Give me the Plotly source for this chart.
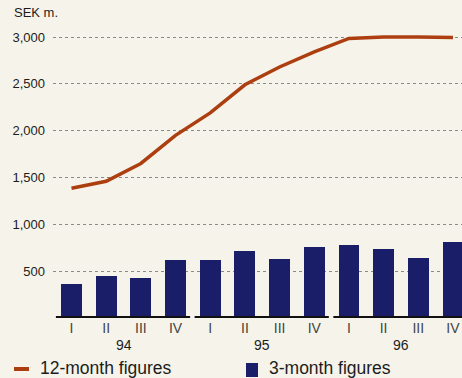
import plotly.graph_objects as go

quarters = ["I", "II", "III", "IV"] * 3
years = ["94", "95", "96"]
three_month = [360, 450, 430, 615, 620, 720, 630, 755, 775, 740, 645, 815]
twelve_month = [1385, 1460, 1650, 1950, 2190, 2490, 2680, 2840, 2985, 3000, 3000, 2995]
y_ticks = [500, 1000, 1500, 2000, 2500, 3000]
y_labels = ["500", "1,000", "1,500", "2,000", "2,500", "3,000"]

BG = "#f6f4ea"
NAVY = "#1a1d68"
RUST = "#ad3e10"
TXT = "#1c1c1c"
FONT = "Liberation Sans, Arial, sans-serif"

W, H = 462, 378
L, R, T, B = 53, 0, 20, 60
pw, ph = W - L - R, H - T - B


def px_x(p):
    return (p - L) / pw


def px_y(p):
    return 1 - (p - T) / ph


x = list(range(len(quarters)))

fig = go.Figure()
fig.add_trace(go.Bar(x=x, y=three_month, width=0.6, marker=dict(color=NAVY, line=dict(width=0)),
                     name="3-month figures", showlegend=False))
fig.add_trace(go.Scatter(x=x, y=twelve_month, mode="lines", line=dict(color=RUST, width=3.5),
                         name="12-month figures", showlegend=False))

anns = []
shapes = []
# baseline segments under each year group + year labels
for g in range(len(years)):
    shapes.append(dict(type="line", xref="x", yref="y", x0=g * 4 - 0.45, x1=g * 4 + 3.42, y0=0, y1=0,
                       line=dict(color="#111111", width=4), layer="above"))
    anns.append(dict(x=g * 4 + 1.5, xref="x", y=px_y(345), yref="paper", yanchor="middle",
                     text=years[g], showarrow=False, font=dict(family=FONT, size=14, color=TXT)))

anns.append(dict(x=px_x(12), xref="paper", xanchor="left", y=px_y(12), yref="paper", yanchor="middle",
                 text="SEK m.", showarrow=False, font=dict(family=FONT, size=13, color=TXT)))
# legend
anns.append(dict(x=px_x(38), xref="paper", xanchor="left", y=px_y(368), yref="paper", yanchor="middle",
                 text="12-month figures", showarrow=False, font=dict(family=FONT, size=17.5, color=TXT)))
anns.append(dict(x=px_x(267), xref="paper", xanchor="left", y=px_y(368), yref="paper", yanchor="middle",
                 text="3-month figures", showarrow=False, font=dict(family=FONT, size=17.5, color=TXT)))
shapes.append(dict(type="line", xref="paper", yref="paper", x0=px_x(14), x1=px_x(29), y0=px_y(369), y1=px_y(369),
                   line=dict(color=RUST, width=4)))
shapes.append(dict(type="rect", xref="paper", yref="paper", x0=px_x(246), x1=px_x(258), y0=px_y(377), y1=px_y(363),
                   fillcolor=NAVY, line=dict(width=0)))

fig.update_layout(
    width=W, height=H,
    margin=dict(l=L, r=R, t=T, b=B, pad=0),
    paper_bgcolor=BG, plot_bgcolor=BG,
    annotations=anns, shapes=shapes,
    showlegend=False, bargap=0,
    xaxis=dict(range=[-0.533, 11.26], tickvals=x, ticktext=quarters, showgrid=False, zeroline=False,
               showline=False, ticks="", tickfont=dict(family=FONT, size=14, color="#444444"), fixedrange=True),
    yaxis=dict(range=[0, 3000 * (318 - T) / 281], tickvals=y_ticks, ticktext=y_labels, showgrid=True,
               gridcolor="#8a8a8a", griddash="dot", gridwidth=1, zeroline=False, showline=False,
               ticks="", ticklabelstandoff=7,
               tickfont=dict(family=FONT, size=13, color=TXT), fixedrange=True),
)

fig.write_html("out.html", config={"displayModeBar": False},
               post_script="document.body.style.margin='0';document.body.style.background='" + BG + "';")
